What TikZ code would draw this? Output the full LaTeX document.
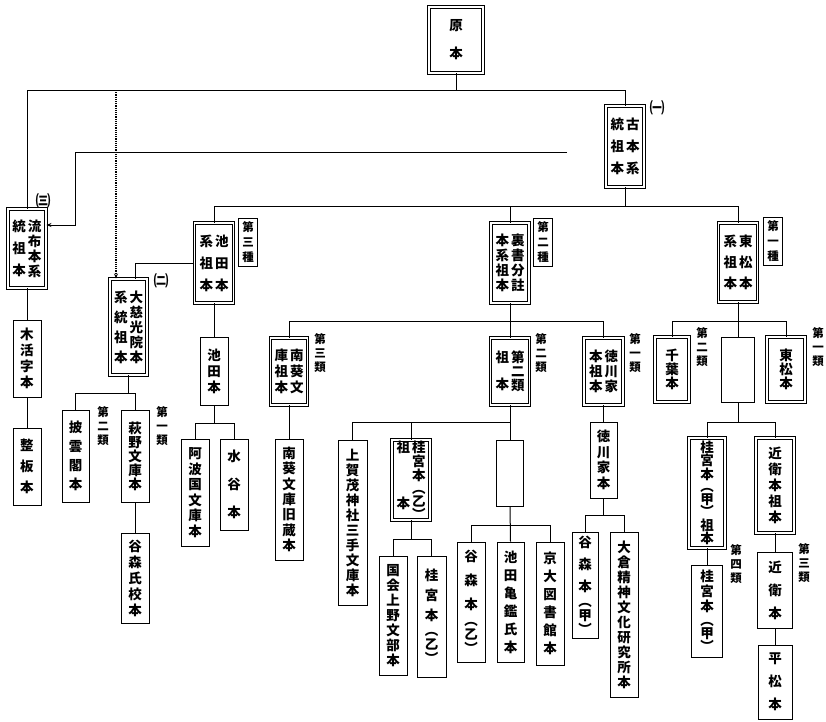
\documentclass[tikz,border=0pt]{standalone}
\usepackage{fontspec}
\usetikzlibrary{arrows.meta}
\newfontfamily\cjk{Noto Sans CJK JP}
% vertical text: size, pitch, characters separated by \\
\newcommand{\tatebox}[3]{\vtop{\hsize=\dimexpr#1pt+2pt\relax\parindent=0pt\parskip=0pt
  \lineskiplimit=-40pt\fontsize{#1}{#2}\selectfont\centering#3\par}}
\newcommand{\tate}[2][15]{\tatebox{13.5}{#1}{#2}}
\newcommand{\rui}[2][14]{\tatebox{11.5}{#1}{#2}}

\begin{document}
\begin{tikzpicture}[
  x=1pt, y=-1pt,
  box/.style={draw, line width=1pt, inner sep=0pt, font=\cjk\bfseries},
  dbox/.style={box, double, double distance=1.3pt, line width=0.9pt},
  rui/.style={inner sep=0pt, font=\cjk\bfseries},
  ruibox/.style={rui, draw, line width=0.9pt, minimum width=19pt, minimum height=48pt},
  num/.style={inner sep=0pt, font=\cjk\bfseries\fontsize{15}{15}\selectfont},
  link/.style={line width=1pt},
  arr/.style={link, -{Stealth[length=5pt, width=4pt]}},
  dotarr/.style={line width=1.2pt, densely dotted, -{Stealth[length=5pt, width=4pt]}}
]
  \useasboundingbox (0,0) rectangle (826,721);

  % stems
  \node[dbox, minimum width=54pt, minimum height=66pt] (genpon) at (456,40) {\tate[28]{原\\本}};
  \node[dbox, minimum width=38pt, minimum height=81pt] (kohon) at (625,146.5) {\tate[22]{統\\祖\\本}\tate[22]{古\\本\\系}};
  \node[dbox, minimum width=38pt, minimum height=79pt] (rufu) at (27,248.5) {\tate[22]{統\\祖\\本}\tate[15]{流\\布\\本\\系}};
  \node[dbox, minimum width=37pt, minimum height=96pt] (daiji) at (128.5,327) {\tate[20]{系\\統\\祖\\本}\tate[15]{大\\慈\\光\\院\\本}};
  \node[dbox, minimum width=39pt, minimum height=80pt] (ikedaso) at (214,263) {\tate[22]{系\\祖\\本}\tate[22]{池\\田\\本}};
  \node[dbox, minimum width=38pt, minimum height=80pt] (uragaki) at (510,263) {\tate[15]{本\\系\\祖\\本}\tate[15]{裏\\書\\分\\註}};
  \node[dbox, minimum width=39pt, minimum height=79pt] (tomatsuso) at (738,262.5) {\tate[21]{系\\祖\\本}\tate[21]{東\\松\\本}};
  \node[dbox, minimum width=37pt, minimum height=67pt] (nankiso) at (289,371.5) {\tate[16]{庫\\祖\\本}\tate[16]{南\\葵\\文}};
  \node[dbox, minimum width=39pt, minimum height=67pt] (nirui) at (510,371.5) {\tate[27]{祖\\本}\tate[14]{第\\二\\類}};
  \node[dbox, minimum width=39pt, minimum height=67pt] (tokuso) at (603.5,371.5) {\tate[15]{本\\祖\\本}\tate[15]{徳\\川\\家}};
  \node[dbox, minimum width=34pt, minimum height=65pt] (chiba) at (672,369.5) {\tate[14]{千\\葉\\本}};
  \node[dbox, minimum width=38pt, minimum height=65pt] (tomatsu) at (786,369.5) {\tate[14]{東\\松\\本}};
  \node[dbox, minimum width=38pt, minimum height=80pt] (katsuraotsuso) at (411,480) {\tate[56]{祖\\本}\tate[14]{桂\\宮\\本\\[-1pt]︵\\[-1pt]乙\\[-1pt]︶}};
  \node[dbox, minimum width=36pt, minimum height=110pt] (katsurakoso) at (707,493) {\tate[13.5]{桂\\宮\\本\\[-1pt]︵\\[-1pt]甲\\[-1pt]︶\\祖\\本}};
  \node[dbox, minimum width=38pt, minimum height=95pt] (konoeso) at (775,485.5) {\tate[16]{近\\衛\\本\\祖\\本}};

  % manuscripts
  \node[box, minimum width=28pt, minimum height=77pt] (mokkatsu) at (27,358.5) {\tate[16]{木\\活\\字\\本}};
  \node[box, minimum width=28pt, minimum height=77pt] (seihan) at (27,466.5) {\tate[21]{整\\板\\本}};
  \node[box, minimum width=27pt, minimum height=92pt] (hiun) at (75.5,456) {\tate[19]{披\\雲\\閣\\本}};
  \node[box, minimum width=28pt, minimum height=92pt] (hagino) at (135,456) {\tate[14]{萩\\野\\文\\庫\\本}};
  \node[box, minimum width=28pt, minimum height=90pt] (tanimorishi) at (135,578) {\tate[16]{谷\\森\\氏\\校\\本}};
  \node[box, minimum width=28pt, minimum height=68pt] (ikeda) at (214,371) {\tate[16]{池\\田\\本}};
  \node[box, minimum width=28pt, minimum height=107pt] (awa) at (195,492.5) {\tate[15.5]{阿\\波\\国\\文\\庫\\本}};
  \node[box, minimum width=28pt, minimum height=91pt] (mizutani) at (234,484.5) {\tate[28]{水\\谷\\本}};
  \node[box, minimum width=28pt, minimum height=121pt] (nankikyu) at (289,499.5) {\tate[15.3]{南\\葵\\文\\庫\\旧\\蔵\\本}};
  \node[box, minimum width=29pt, minimum height=165pt] (kamo) at (352.5,522.5) {\tate[15]{上\\賀\\茂\\神\\社\\三\\手\\文\\庫\\本}};
  \node[box, minimum width=28pt, minimum height=119pt] (kokkai) at (393,615.5) {\tate[15]{国\\会\\上\\野\\文\\部\\本}};
  \node[box, minimum width=29pt, minimum height=121pt] (katsuraotsu) at (431.5,616.5) {\tate[20]{桂\\宮\\本\\[-5pt]︵\\[-6pt]乙\\[-6pt]︶}};
  \node[box, minimum width=27pt, minimum height=66pt] (blanka) at (510,473) {};
  \node[box, minimum width=28pt, minimum height=120pt] (tanimoriotsu) at (471,602) {\tate[24]{谷\\森\\本\\[-8pt]︵\\[-10pt]乙\\[-10pt]︶}};
  \node[box, minimum width=27pt, minimum height=120pt] (ikedakikan) at (510.5,602) {\tate[18]{池\\田\\亀\\鑑\\氏\\本}};
  \node[box, minimum width=28pt, minimum height=123pt] (kyodai) at (550,603.5) {\tate[18]{京\\大\\図\\書\\館\\本}};
  \node[box, minimum width=27pt, minimum height=76pt] (tokugawa) at (603.5,460) {\tate[15.5]{徳\\川\\家\\本}};
  \node[box, minimum width=26pt, minimum height=106pt] (tanimorikou) at (585,585) {\tate[22]{谷\\森\\本\\[-7pt]︵\\[-8pt]甲\\[-8pt]︶}};
  \node[box, minimum width=28pt, minimum height=165pt] (okura) at (624,614.5) {\tate[15]{大\\倉\\精\\神\\文\\化\\研\\究\\所\\本}};
  \node[box, minimum width=33pt, minimum height=65pt] (blankb) at (738,369.5) {};
  \node[box, minimum width=31pt, minimum height=92pt] (katsurakou) at (707,611) {\tate[15]{桂\\宮\\本\\[-1pt]︵\\[-2pt]甲\\[-2pt]︶}};
  \node[box, minimum width=35pt, minimum height=76pt] (konoe) at (775,590) {\tate[23]{近\\衛\\本}};
  \node[box, minimum width=34pt, minimum height=74pt] (hiramatsu) at (775,682) {\tate[23]{平\\松\\本}};

  % class labels
  \node[num] (kei1) at (657,108) {㈠};
  \node[num] (kei2) at (161,281) {㈡};
  \node[num] (kei3) at (43,201) {㈢};
  \node[ruibox] (shu3) at (248,242) {\rui[15]{第\\三\\種}};
  \node[ruibox] (shu2) at (543,242) {\rui[15]{第\\二\\種}};
  \node[ruibox] (shu1) at (773,241) {\rui[15]{第\\一\\種}};
  \node[rui] (rui3a) at (320,353) {\rui{第\\三\\類}};
  \node[rui] (rui2a) at (541,353) {\rui{第\\二\\類}};
  \node[rui] (rui1a) at (635,353) {\rui{第\\一\\類}};
  \node[rui] (rui2b) at (702,347) {\rui{第\\二\\類}};
  \node[rui] (rui1b) at (818,347) {\rui{第\\一\\類}};
  \node[rui] (rui2c) at (103,426) {\rui{第\\二\\類}};
  \node[rui] (rui1c) at (162,426) {\rui{第\\一\\類}};
  \node[rui] (rui4) at (736,564) {\rui{第\\四\\類}};
  \node[rui] (rui3b) at (804,563) {\rui{第\\三\\類}};

  % bar heights
  \coordinate (bar0) at (0,90);
  \coordinate (bar1) at (0,206);
  \coordinate (bar2) at (0,393);
  \coordinate (bar3) at (0,423);
  \coordinate (bar4) at (0,321);
  \coordinate (bar5) at (0,422);
  \coordinate (bar6) at (0,539);
  \coordinate (bar7) at (0,525);
  \coordinate (bar8) at (0,515);
  \coordinate (dtop) at (116,90);
  \coordinate (koarr) at (567,152);
  \coordinate (kink) at (75,225);

  % 原本
  \draw[link] (genpon.south) -- (genpon.south |- bar0);
  \draw[link] (rufu.north) |- (kohon.north |- bar0) -- (kohon.north);
  \draw[dotarr] (dtop) -- (dtop |- daiji.north);
  \draw[arr] (koarr) -| (kink) -- (kink -| rufu.east);

  % 古本系統
  \draw[link] (kohon.south) -- (kohon.south |- bar1);
  \draw[link] (ikedaso.north) |- (tomatsuso.north |- bar1) -- (tomatsuso.north);
  \draw[link] (uragaki.north) -- (uragaki.north |- bar1);
  \draw[link] (ikedaso.west) -| ([xshift=6.5pt]daiji.north);

  % 流布本系統
  \draw[link] (rufu.south) -- (mokkatsu.north);
  \draw[link] (mokkatsu.south) -- (seihan.north);

  % 大慈光院本系統
  \draw[link] (daiji.south) -- (daiji.south |- bar2);
  \draw[link] (hiun.north) |- (hagino.north |- bar2) -- (hagino.north);
  \draw[link] (hagino.south) -- (tanimorishi.north);

  % 池田本系
  \draw[link] (ikedaso.south) -- (ikeda.north);
  \draw[link] (ikeda.south) -- (ikeda.south |- bar3);
  \draw[link] (awa.north) |- (mizutani.north |- bar3) -- (mizutani.north);

  % 裏書分註本系
  \draw[link] (uragaki.south) -- (nirui.north);
  \draw[link] (nankiso.north) |- (tokuso.north |- bar4) -- (tokuso.north);
  \draw[link] (nankiso.south) -- (nankikyu.north);
  \draw[link] (nirui.south) -- (blanka.north);
  \draw[link] (kamo.north) |- (blanka.north |- bar5);
  \draw[link] (katsuraotsuso.north) -- (katsuraotsuso.north |- bar5);
  \draw[link] (katsuraotsuso.south) -- (katsuraotsuso.south |- bar6);
  \draw[link] (kokkai.north) |- (katsuraotsu.north |- bar6) -- (katsuraotsu.north);
  \draw[link] (blanka.south) -- (ikedakikan.north);
  \draw[link] (tanimoriotsu.north) |- (kyodai.north |- bar7) -- (kyodai.north);
  \draw[link] (tokuso.south) -- (tokugawa.north);
  \draw[link] (tokugawa.south) -- (tokugawa.south |- bar8);
  \draw[link] (tanimorikou.north) |- (okura.north |- bar8) -- (okura.north);

  % 東松本系
  \draw[link] (tomatsuso.south) -- (blankb.north);
  \draw[link] (chiba.north) |- (tomatsu.north |- bar4) -- (tomatsu.north);
  \draw[link] (blankb.south) -- (blankb.south |- bar5);
  \draw[link] (katsurakoso.north) |- (konoeso.north |- bar5) -- (konoeso.north);
  \draw[link] (katsurakoso.south) -- (katsurakou.north);
  \draw[link] (konoeso.south) -- (konoe.north);
  \draw[link] (konoe.south) -- (hiramatsu.north);
\end{tikzpicture}
\end{document}
